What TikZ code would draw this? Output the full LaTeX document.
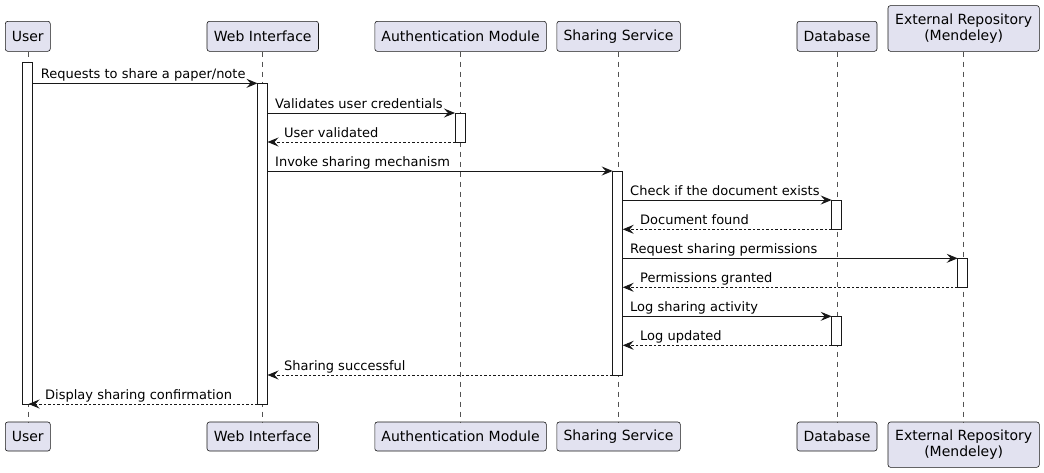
\documentclass[tikz,border=0pt]{standalone}
\usepackage{fontspec}
\setmainfont{DejaVu Sans}
\usetikzlibrary{arrows.meta}
\definecolor{pbox}{HTML}{E2E2F0}
\definecolor{pline}{HTML}{181818}
\tikzset{
  part/.style={draw=pline, fill=pbox, line width=0.6pt, rounded corners=2.5pt,
    font=\fontsize{14}{16.5}\selectfont, inner sep=0pt, align=center, anchor=north west},
  life/.style={draw=pline!75, line width=0.6pt, dash pattern=on 5pt off 5pt},
  actbar/.style={draw=pline, fill=white, line width=0.9pt},
  msg/.style={draw=pline, line width=1pt, -{Stealth[length=11pt,width=9pt,inset=4pt]}},
  ret/.style={msg, dash pattern=on 2.5pt off 2pt},
  lbl/.style={font=\fontsize{13}{15}\selectfont, anchor=base west, inner sep=0pt}
}
\begin{document}
\begin{tikzpicture}[x=1pt,y=-1pt]
\useasboundingbox (0,0) rectangle (1044,472);
% participants top
\node[part, minimum width=45pt, minimum height=30pt] (uT) at (5,21) {User};
\node[part, minimum width=111.5pt, minimum height=30pt] (wT) at (206.7,21) {Web Interface};
\node[part, minimum width=171.5pt, minimum height=30pt] (aT) at (374.5,21) {Authentication Module};
\node[part, minimum width=123.5pt, minimum height=30pt] (sT) at (556.5,21) {Sharing Service};
\node[part, minimum width=80pt, minimum height=30pt] (dT) at (796.7,21) {Database};
\node[part, minimum width=151.3pt, minimum height=45.7pt] (eT) at (887.7,5.3) {External Repository\\(Mendeley)};
% participants bottom
\node[part, minimum width=45pt, minimum height=29pt] (uB) at (5,421.7) {User};
\node[part, minimum width=111.5pt, minimum height=29pt] (wB) at (206.7,421.7) {Web Interface};
\node[part, minimum width=171.5pt, minimum height=29pt] (aB) at (374.5,421.7) {Authentication Module};
\node[part, minimum width=123.5pt, minimum height=29pt] (sB) at (556.5,421.7) {Sharing Service};
\node[part, minimum width=80pt, minimum height=29pt] (dB) at (796.7,421.7) {Database};
\node[part, minimum width=151.3pt, minimum height=45.3pt] (eB) at (887.7,421.7) {External Repository\\(Mendeley)};
% lifelines
\draw[life] (uT.south) -- (uB.north);
\draw[life] (wT.south) -- (wB.north);
\draw[life] (aT.south) -- (aB.north);
\draw[life] (sT.south) -- (sB.north);
\draw[life] (dT.south) -- (dB.north);
\draw[life] (eT.south) -- (eB.north);
% activation bars
\draw[actbar] (22.5,62.5) rectangle (32.5,404);
\draw[actbar] (257.5,83.3) rectangle (267.5,404);
\draw[actbar] (455,113) rectangle (465,142);
\draw[actbar] (612.7,171) rectangle (622.7,375);
\draw[actbar] (831.7,200) rectangle (841.7,229.3);
\draw[actbar] (957.7,258.3) rectangle (967.7,287.3);
\draw[actbar] (831.7,316.3) rectangle (841.7,345.3);
% message endpoints
\coordinate (m1a) at (32.5,83.3);   \coordinate (m1b) at (257.5,83.3);
\coordinate (m2a) at (267.5,113);   \coordinate (m2b) at (455,113);
\coordinate (m3a) at (455,142);     \coordinate (m3b) at (267.5,142);
\coordinate (m4a) at (267.5,171);   \coordinate (m4b) at (612.7,171);
\coordinate (m5a) at (622.7,200);   \coordinate (m5b) at (831.7,200);
\coordinate (m6a) at (831.7,229.3); \coordinate (m6b) at (622.7,229.3);
\coordinate (m7a) at (622.7,258.3); \coordinate (m7b) at (957.7,258.3);
\coordinate (m8a) at (957.7,287.3); \coordinate (m8b) at (622.7,287.3);
\coordinate (m9a) at (622.7,316.3); \coordinate (m9b) at (831.7,316.3);
\coordinate (m10a) at (831.7,345.3); \coordinate (m10b) at (622.7,345.3);
\coordinate (m11a) at (612.7,375);  \coordinate (m11b) at (267.5,375);
\coordinate (m12a) at (257.5,404);  \coordinate (m12b) at (28.5,404);
% messages
\draw[msg] (m1a) -- (m1b);
\node[lbl] at (40.7,78.3) {Requests to share a paper/note};
\draw[msg] (m2a) -- (m2b);
\node[lbl] at (275,108) {Validates user credentials};
\draw[ret] (m3a) -- (m3b);
\node[lbl] at (284,137) {User validated};
\draw[msg] (m4a) -- (m4b);
\node[lbl] at (275,166) {Invoke sharing mechanism};
\draw[msg] (m5a) -- (m5b);
\node[lbl] at (630,195) {Check if the document exists};
\draw[ret] (m6a) -- (m6b);
\node[lbl] at (640,224.3) {Document found};
\draw[msg] (m7a) -- (m7b);
\node[lbl] at (630,253.3) {Request sharing permissions};
\draw[ret] (m8a) -- (m8b);
\node[lbl] at (640,282.3) {Permissions granted};
\draw[msg] (m9a) -- (m9b);
\node[lbl] at (630,311.3) {Log sharing activity};
\draw[ret] (m10a) -- (m10b);
\node[lbl] at (640,340.3) {Log updated};
\draw[ret] (m11a) -- (m11b);
\node[lbl] at (284,370) {Sharing successful};
\draw[ret] (m12a) -- (m12b);
\node[lbl] at (45,399) {Display sharing confirmation};
\end{tikzpicture}
\end{document}
